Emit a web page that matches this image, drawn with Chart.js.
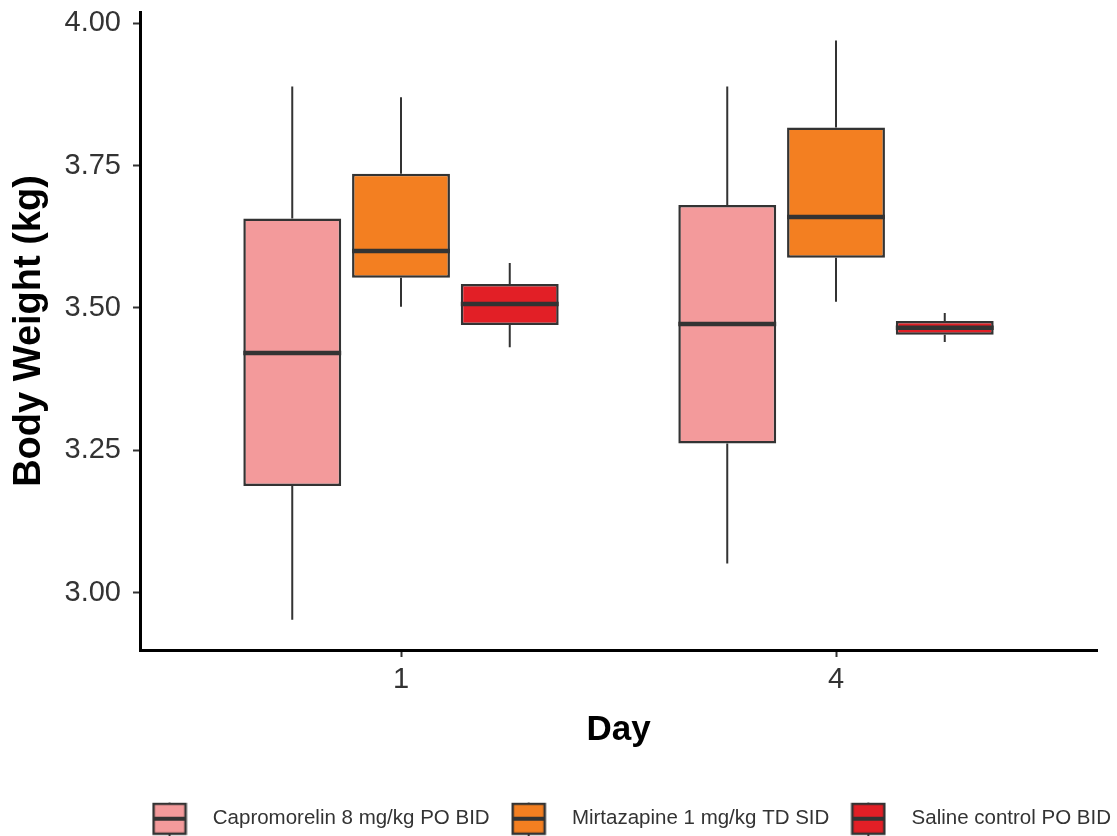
<!DOCTYPE html>
<html>
<head>
<meta charset="utf-8">
<title>Body Weight by Day</title>
<script src="https://cdn.jsdelivr.net/npm/chart.js@4.4.0/dist/chart.umd.min.js"></script>
<style>
    html, body { margin: 0; padding: 0; background: #fff; }
</style>
</head>
<body>
<canvas id="myChart" width="1117" height="836"></canvas>
<script>
// x positions of the two days and their labels
const dayPositions = [1, 2];
const dayLabels = ['1', '4'];
const yTicks = [3.00, 3.25, 3.50, 3.75, 4.00];

const groupNames = ['Capromorelin 8 mg/kg PO BID', 'Mirtazapine 1 mg/kg TD SID', 'Saline control PO BID'];
const groupColors = ['#F39A9B', '#F37F21', '#E21F26'];
const outline = '#333333';

// Capromorelin
const capMin    = [2.952, 3.051];
const capQ1     = [3.187, 3.262];
const capMedian = [3.421, 3.472];
const capQ3     = [3.657, 3.681];
const capMax    = [3.889, 3.889];

// Mirtazapine
const mirMin    = [3.502, 3.511];
const mirQ1     = [3.553, 3.588];
const mirMedian = [3.600, 3.660];
const mirQ3     = [3.736, 3.817];
const mirMax    = [3.870, 3.970];

// Saline
const salMin    = [3.431, 3.440];
const salQ1     = [3.470, 3.453];
const salMedian = [3.507, 3.465];
const salQ3     = [3.542, 3.477];
const salMax    = [3.579, 3.491];

const boxStats = [
    { min: capMin, q1: capQ1, median: capMedian, q3: capQ3, max: capMax },
    { min: mirMin, q1: mirQ1, median: mirMedian, q3: mirQ3, max: mirMax },
    { min: salMin, q1: salQ1, median: salMedian, q3: salQ3, max: salMax }
];

Chart.defaults.font.family = "'Liberation Sans', Arial, sans-serif";

function legendIcon(fill){
    const c = document.createElement('canvas');
    c.width = 36;
    c.height = 52;
    const g = c.getContext('2d');
    g.strokeStyle = outline;
    g.lineWidth = 2;
    g.beginPath();
    g.moveTo(18, 0);
    g.lineTo(18, 52);
    g.stroke();
    g.fillStyle = fill;
    g.fillRect(2, 11, 32, 30);
    g.lineWidth = 2.5;
    g.strokeRect(2, 11, 32, 30);
    g.lineWidth = 4;
    g.beginPath();
    g.moveTo(2, 26);
    g.lineTo(34, 26);
    g.stroke();
    return c;
}

const legendIcons = groupColors.map(legendIcon);

// whiskers and medians on top of the floating bars
const whiskerPlugin = {
    id: 'whiskers',
    afterDatasetsDraw(chart){
        const ctx = chart.ctx;
        const y = chart.scales.y;
        ctx.save();
        ctx.strokeStyle = outline;
        chart.data.datasets.forEach(function(ds, d){
            const meta = chart.getDatasetMeta(d);
            const s = boxStats[d];
            meta.data.forEach(function(bar, i){
                ctx.lineWidth = 2;
                ctx.beginPath();
                ctx.moveTo(bar.x, y.getPixelForValue(s.q3[i]));
                ctx.lineTo(bar.x, y.getPixelForValue(s.max[i]));
                ctx.moveTo(bar.x, y.getPixelForValue(s.q1[i]));
                ctx.lineTo(bar.x, y.getPixelForValue(s.min[i]));
                ctx.stroke();
                ctx.lineWidth = 4.5;
                ctx.beginPath();
                ctx.moveTo(bar.x - bar.width / 2, y.getPixelForValue(s.median[i]));
                ctx.lineTo(bar.x + bar.width / 2, y.getPixelForValue(s.median[i]));
                ctx.stroke();
            });
        });
        ctx.restore();
    }
};

function makeDataset(idx){
    const s = boxStats[idx];
    return {
        label: groupNames[idx],
        data: s.q1.map(function(q, i){ return [q, s.q3[i]]; }),
        backgroundColor: groupColors[idx],
        borderColor: outline,
        borderWidth: 2.5,
        borderSkipped: false,
        barPercentage: 0.9,
        categoryPercentage: 0.75
    };
}

function chart(){
    const ctx = document.getElementById('myChart');
    new Chart(ctx, {
        type: 'bar',
        data: {
            labels: dayPositions,
            datasets: [makeDataset(0), makeDataset(1), makeDataset(2)]
        },
        options: {
            responsive: false,
            animation: false,
            devicePixelRatio: 1,
            layout: { padding: { top: 12, left: 0, right: 0, bottom: -3 } },
            plugins: {
                tooltip: { enabled: false },
                legend: {
                    position: 'bottom',
                    align: 'end',
                    labels: {
                        usePointStyle: true,
                        pointStyleWidth: 66,
                        boxHeight: 20,
                        padding: 6,
                        color: '#333',
                        font: { size: 20.5 },
                        generateLabels: function(c){
                            return c.data.datasets.map(function(ds, i){
                                return {
                                    text: ds.label,
                                    pointStyle: legendIcons[i],
                                    fillStyle: ds.backgroundColor,
                                    strokeStyle: outline,
                                    lineWidth: 0,
                                    hidden: false,
                                    datasetIndex: i,
                                    fontColor: '#333'
                                };
                            });
                        }
                    }
                }
            },
            scales: {
                x: {
                    type: 'linear',
                    min: 0.4,
                    max: 2.6,
                    offset: false,
                    border: { display: true, color: '#000', width: 3 },
                    grid: { display: true, drawOnChartArea: false, drawTicks: true, tickLength: 7, tickWidth: 2, tickColor: '#333', offset: false },
                    ticks: {
                        color: '#333',
                        padding: 6,
                        font: { size: 29 },
                        callback: function(value){ return dayLabels[dayPositions.indexOf(value)]; }
                    },
                    afterBuildTicks: function(scale){
                        scale.ticks = dayPositions.map(function(v){ return { value: v }; });
                    },
                    afterFit: function(scale){
                        scale.height = 152.5;
                        scale.paddingLeft = 0;
                        scale.paddingRight = 0;
                    },
                    title: {
                        display: true,
                        text: 'Day',
                        color: '#000',
                        font: { size: 35, weight: 'bold' },
                        padding: { top: 0, bottom: 51 }
                    }
                },
                y: {
                    min: 2.899,
                    max: 4.02,
                    border: { display: true, color: '#000', width: 3 },
                    grid: { display: true, drawOnChartArea: false, drawTicks: true, tickLength: 7, tickWidth: 2, tickColor: '#333' },
                    ticks: {
                        color: '#333',
                        padding: 12,
                        font: { size: 29 },
                        callback: function(value){ return value.toFixed(2); }
                    },
                    afterBuildTicks: function(scale){
                        scale.ticks = yTicks.map(function(v){ return { value: v }; });
                    },
                    afterFit: function(scale){
                        scale.width = 140;
                        scale.paddingTop = 0;
                        scale.paddingBottom = 0;
                    },
                    title: {
                        display: true,
                        text: 'Body Weight (kg)',
                        color: '#000',
                        font: { size: 38, weight: 'bold' },
                        padding: { top: 7, bottom: 0 }
                    }
                },
                y2: {
                    position: 'right',
                    border: { display: false },
                    grid: { display: false },
                    ticks: { display: false },
                    afterFit: function(scale){
                        scale.width = 20;
                    }
                }
            }
        },
        plugins: [whiskerPlugin]
    });
}

chart();
</script>
</body>
</html>
